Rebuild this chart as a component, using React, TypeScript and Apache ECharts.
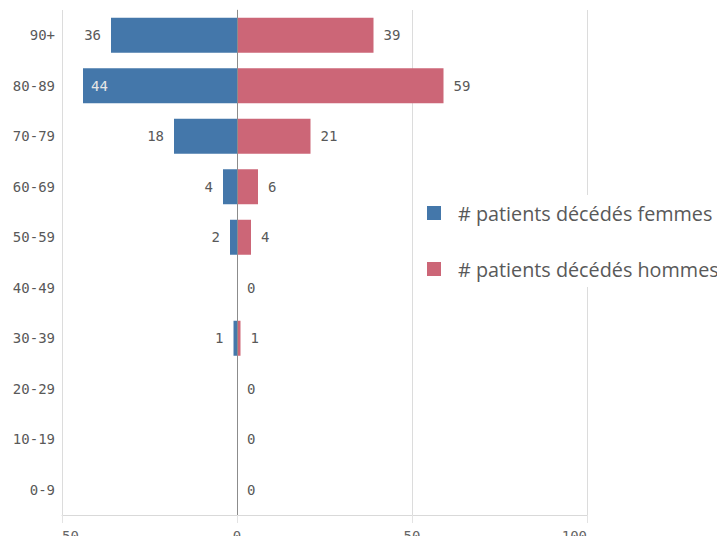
import React, { useEffect, useRef } from "react";
import * as echarts from "echarts";

const categories = ["90+", "80-89", "70-79", "60-69", "50-59", "40-49", "30-39", "20-29", "10-19", "0-9"];
const femmes = [36, 44, 18, 4, 2, 0, 1, 0, 0, 0];
const hommes = [39, 59, 21, 6, 4, 0, 1, 0, 0, 0];
const seriesNames = ["# patients décédés femmes", "# patients décédés hommes"];
const xTicks = { min: -50, max: 100, interval: 50 };

const BLUE = "#4477aa";
const RED = "#cc6677";
const TXT = "#595959";
const MONO = "DejaVu Sans Mono";

export default function App() {
  const ref = useRef<HTMLDivElement>(null);
  useEffect(() => {
    if (!ref.current) return;
    const chart = echarts.init(ref.current, undefined, { renderer: "svg" });
    const femData = femmes.map((v) => {
      const item: any = { value: -v };
      if (v === 0) item.label = { show: false };
      else if (v > 40) item.label = { position: "insideLeft", color: "#e6e6e6", distance: 8 };
      return item;
    });
    chart.setOption({
      animation: false,
      grid: { left: 62, right: 138, top: 10, bottom: 29, containLabel: false },
      legend: {
        orient: "vertical",
        left: 420,
        top: 195,
        padding: [8, 4, 8, 7],
        backgroundColor: "#ffffff",
        itemGap: 36,
        itemWidth: 14,
        itemHeight: 14,
        icon: "rect",
        textStyle: { fontFamily: "Open Sans", fontSize: 19.8, color: TXT, padding: [0, 0, 0, 12] },
        data: seriesNames,
      },
      xAxis: {
        type: "value",
        min: xTicks.min,
        max: xTicks.max,
        interval: xTicks.interval,
        axisLine: { show: true, lineStyle: { color: "#d9d9d9" } },
        axisTick: { show: true, length: 8, lineStyle: { color: "#e3e3e3" } },
        splitLine: { show: true, lineStyle: { color: "#dcdcdc" } },
        axisLabel: {
          fontFamily: MONO,
          fontSize: 14,
          color: "#666666",
          margin: 14,
          alignMinLabel: "left",
          alignMaxLabel: "right",
          formatter: (v: number) => String(Math.abs(v)),
        },
      },
      yAxis: {
        type: "category",
        data: categories,
        inverse: true,
        axisLine: { show: true, lineStyle: { color: "#d0d0d0" } },
        axisTick: { show: false },
        axisLabel: { fontFamily: MONO, fontSize: 14, color: TXT, margin: 7 },
      },
      series: [
        {
          name: seriesNames[0],
          type: "bar",
          stack: "total",
          barWidth: 35,
          itemStyle: { color: BLUE },
          label: {
            show: true,
            position: "left",
            distance: 10,
            fontFamily: MONO,
            fontSize: 14,
            color: TXT,
            formatter: (p: any) => String(Math.abs(p.value)),
          },
          data: femData,
          markLine: {
            silent: true,
            symbol: "none",
            label: { show: false },
            lineStyle: { color: "#8c8c8c", width: 1, type: "solid" },
            data: [{ xAxis: 0 }],
          },
        },
        {
          name: seriesNames[1],
          type: "bar",
          stack: "total",
          barWidth: 35,
          itemStyle: { color: RED },
          label: {
            show: true,
            position: "right",
            distance: 10,
            fontFamily: MONO,
            fontSize: 14,
            color: TXT,
          },
          data: hommes,
        },
      ],
    });
    return () => chart.dispose();
  }, []);
  return <div ref={ref} style={{ width: 725, height: 544, margin: -8 }} />;
}
